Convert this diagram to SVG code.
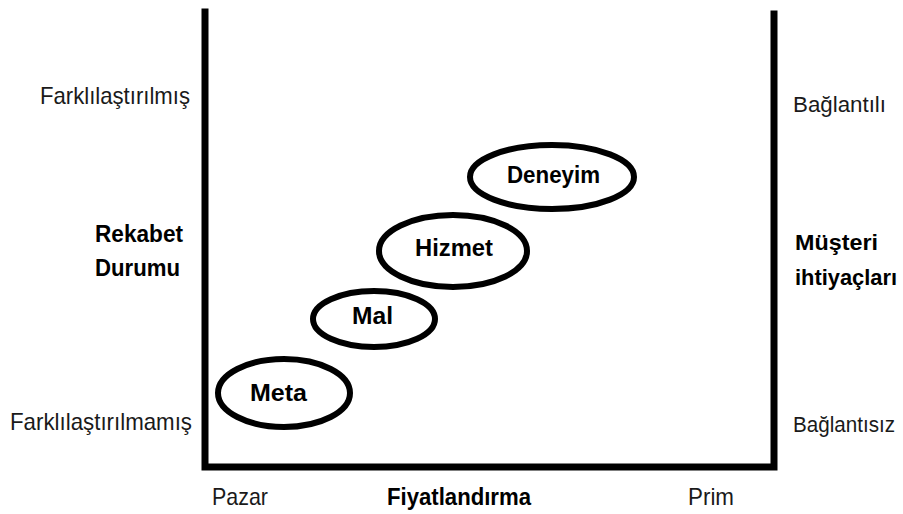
<svg xmlns="http://www.w3.org/2000/svg" width="903" height="514" viewBox="0 0 903 514">
  <style>
    .lbl { font-family: "Liberation Sans", Arial, sans-serif; font-size: 24px; fill: #1a1a1a; }
    .bold { font-weight: bold; fill: #000; }
    #right-labels .lbl { font-size: 22px; }
    .axis { fill: none; stroke: #000; stroke-width: 7; stroke-linecap: square; }
    .node ellipse { fill: #fff; stroke: #000; stroke-width: 6; }
  </style>
  <rect width="903" height="514" fill="#fff"/>

  <!-- axes frame -->
  <g id="axes">
    <path class="axis" d="M205,12 V467 H774 V14"/>
  </g>

  <!-- left axis labels -->
  <g id="left-labels">
    <text class="lbl" x="40" y="104" textLength="150" lengthAdjust="spacingAndGlyphs">Farklılaştırılmış</text>
    <text class="lbl bold" x="95" y="242" textLength="88" lengthAdjust="spacingAndGlyphs">Rekabet</text>
    <text class="lbl bold" x="95" y="276" textLength="85" lengthAdjust="spacingAndGlyphs">Durumu</text>
    <text class="lbl" x="10" y="430" textLength="182" lengthAdjust="spacingAndGlyphs">Farklılaştırılmamış</text>
  </g>

  <!-- right axis labels -->
  <g id="right-labels">
    <text class="lbl" x="793" y="112" textLength="93" lengthAdjust="spacingAndGlyphs">Bağlantılı</text>
    <text class="lbl bold" x="795" y="250" textLength="83" lengthAdjust="spacingAndGlyphs">Müşteri</text>
    <text class="lbl bold" x="795" y="285" textLength="102" lengthAdjust="spacingAndGlyphs">ihtiyaçları</text>
    <text class="lbl" x="793" y="432" textLength="102" lengthAdjust="spacingAndGlyphs">Bağlantısız</text>
  </g>

  <!-- bottom axis labels -->
  <g id="bottom-labels">
    <text class="lbl" x="212" y="505" textLength="56" lengthAdjust="spacingAndGlyphs">Pazar</text>
    <text class="lbl bold" x="387" y="505" textLength="144" lengthAdjust="spacingAndGlyphs">Fiyatlandırma</text>
    <text class="lbl" x="688" y="505" textLength="46" lengthAdjust="spacingAndGlyphs">Prim</text>
  </g>

  <!-- offering stages -->
  <g id="node-meta" class="node">
    <ellipse cx="284" cy="393" rx="66" ry="34"/>
    <text class="lbl bold" x="250" y="401" textLength="57" lengthAdjust="spacingAndGlyphs">Meta</text>
  </g>
  <g id="node-mal" class="node">
    <ellipse cx="374" cy="319" rx="61" ry="28"/>
    <text class="lbl bold" x="352" y="324" textLength="41" lengthAdjust="spacingAndGlyphs">Mal</text>
  </g>
  <g id="node-hizmet" class="node">
    <ellipse cx="453" cy="251" rx="74" ry="36"/>
    <text class="lbl bold" x="415" y="256" textLength="78" lengthAdjust="spacingAndGlyphs">Hizmet</text>
  </g>
  <g id="node-deneyim" class="node">
    <ellipse cx="552" cy="177" rx="82" ry="32"/>
    <text class="lbl bold" x="507" y="183" textLength="93" lengthAdjust="spacingAndGlyphs">Deneyim</text>
  </g>
</svg>
